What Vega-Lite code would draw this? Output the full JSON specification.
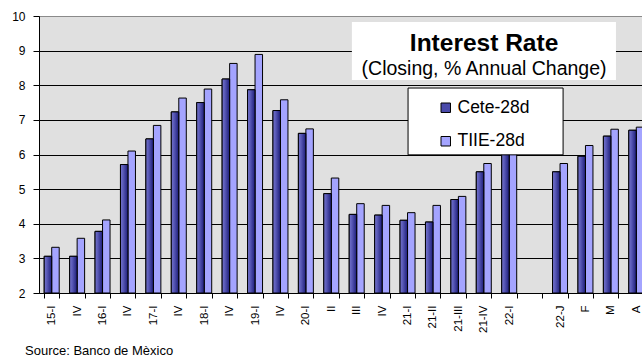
{
  "$schema": "https://vega.github.io/schema/vega-lite/v6.json",
  "autosize": {"type": "none"},
  "width": 603,
  "height": 277,
  "padding": {"left": 39, "top": 16, "right": 0, "bottom": 64},
  "background": "white",
  "config": {
    "font": "Liberation Sans",
    "view": {"fill": "#e0e0e0", "stroke": "#8a8a8a", "strokeWidth": 1},
    "legend": {
      "orient": "none",
      "legendX": 398,
      "legendY": 83,
      "padding": 0,
      "symbolType": "square",
      "symbolSize": 90,
      "symbolStrokeColor": "black",
      "symbolStrokeWidth": 1,
      "symbolOpacity": 1,
      "labelFont": "Liberation Sans",
      "labelFontSize": 17.5,
      "labelColor": "black",
      "labelOffset": 3,
      "rowPadding": 14.5
    },
    "title": {"font": "Liberation Sans"}
  },
  "title": {
    "text": "Source: Banco de Mèxico",
    "orient": "bottom",
    "anchor": "start",
    "frame": "group",
    "dx": -14,
    "offset": 13,
    "fontSize": 13,
    "fontWeight": "normal",
    "color": "black"
  },
  "data": {
    "values": [
      {"period": "15-I", "series": "Cete-28d", "rate": 3.06},
      {"period": "15-I", "series": "TIIE-28d", "rate": 3.32},
      {"period": "IV|15", "series": "Cete-28d", "rate": 3.06},
      {"period": "IV|15", "series": "TIIE-28d", "rate": 3.58},
      {"period": "16-I", "series": "Cete-28d", "rate": 3.78},
      {"period": "16-I", "series": "TIIE-28d", "rate": 4.11},
      {"period": "IV|16", "series": "Cete-28d", "rate": 5.71},
      {"period": "IV|16", "series": "TIIE-28d", "rate": 6.10},
      {"period": "17-I", "series": "Cete-28d", "rate": 6.45},
      {"period": "17-I", "series": "TIIE-28d", "rate": 6.84},
      {"period": "IV|17", "series": "Cete-28d", "rate": 7.23},
      {"period": "IV|17", "series": "TIIE-28d", "rate": 7.63},
      {"period": "18-I", "series": "Cete-28d", "rate": 7.50},
      {"period": "18-I", "series": "TIIE-28d", "rate": 7.89},
      {"period": "IV|18", "series": "Cete-28d", "rate": 8.18},
      {"period": "IV|18", "series": "TIIE-28d", "rate": 8.63},
      {"period": "19-I", "series": "Cete-28d", "rate": 7.87},
      {"period": "19-I", "series": "TIIE-28d", "rate": 8.89},
      {"period": "IV|19", "series": "Cete-28d", "rate": 7.27},
      {"period": "IV|19", "series": "TIIE-28d", "rate": 7.58},
      {"period": "20-I", "series": "Cete-28d", "rate": 6.61},
      {"period": "20-I", "series": "TIIE-28d", "rate": 6.74},
      {"period": "II|20", "series": "Cete-28d", "rate": 4.87},
      {"period": "II|20", "series": "TIIE-28d", "rate": 5.32},
      {"period": "III|20", "series": "Cete-28d", "rate": 4.27},
      {"period": "III|20", "series": "TIIE-28d", "rate": 4.58},
      {"period": "IV|20", "series": "Cete-28d", "rate": 4.25},
      {"period": "IV|20", "series": "TIIE-28d", "rate": 4.53},
      {"period": "21-I", "series": "Cete-28d", "rate": 4.10},
      {"period": "21-I", "series": "TIIE-28d", "rate": 4.32},
      {"period": "21-II", "series": "Cete-28d", "rate": 4.05},
      {"period": "21-II", "series": "TIIE-28d", "rate": 4.53},
      {"period": "21-III", "series": "Cete-28d", "rate": 4.70},
      {"period": "21-III", "series": "TIIE-28d", "rate": 4.79},
      {"period": "21-IV", "series": "Cete-28d", "rate": 5.50},
      {"period": "21-IV", "series": "TIIE-28d", "rate": 5.74},
      {"period": "22-I", "series": "Cete-28d", "rate": 6.53},
      {"period": "22-I", "series": "TIIE-28d", "rate": 6.73},
      {"period": "22-J", "series": "Cete-28d", "rate": 5.50},
      {"period": "22-J", "series": "TIIE-28d", "rate": 5.74},
      {"period": "F", "series": "Cete-28d", "rate": 5.95},
      {"period": "F", "series": "TIIE-28d", "rate": 6.26},
      {"period": "M", "series": "Cete-28d", "rate": 6.53},
      {"period": "M", "series": "TIIE-28d", "rate": 6.73},
      {"period": "A", "series": "Cete-28d", "rate": 6.70},
      {"period": "A", "series": "TIIE-28d", "rate": 6.79}
    ]
  },
  "layer": [
    {
      "encoding": {
        "x": {
          "field": "period",
          "type": "nominal",
          "sort": null,
          "scale": {
            "domain": ["15-I", "IV|15", "16-I", "IV|16", "17-I", "IV|17", "18-I", "IV|18", "19-I", "IV|19", "20-I", "II|20", "III|20", "IV|20", "21-I", "21-II", "21-III", "21-IV", "22-I", "|gap", "22-J", "F", "M", "A"],
            "range": [0, 610],
            "paddingInner": 0.41,
            "paddingOuter": 0.205
          },
          "axis": {
            "title": null,
            "labelExpr": "isString(datum.value) ? split(datum.value, '|')[0] : ''",
            "labelAngle": -90,
            "labelFontSize": 11.5,
            "labelColor": "black",
            "labelPadding": 7,
            "tickBand": "extent",
            "tickSize": 5,
            "tickColor": "black",
            "domainColor": "black",
            "grid": false
          }
        },
        "xOffset": {
          "field": "series",
          "type": "nominal",
          "scale": {"domain": ["Cete-28d", "TIIE-28d"], "paddingInner": 0, "paddingOuter": 0}
        },
        "y": {
          "field": "rate",
          "type": "quantitative",
          "scale": {"domain": [2, 10], "zero": false, "nice": false},
          "axis": {
            "title": null,
            "values": [2, 3, 4, 5, 6, 7, 8, 9, 10],
            "grid": true,
            "gridColor": {"condition": {"test": "datum.value === 10", "value": "#8a8a8a"}, "value": "black"},
            "gridWidth": 1,
            "gridOpacity": 1,
            "tickSize": 6,
            "tickColor": "black",
            "domainColor": "black",
            "labelFontSize": 12,
            "labelColor": "black",
            "labelPadding": 8,
            "labelOverlap": false
          }
        },
        "y2": {"datum": 2}
      },
      "layer": [
        {
          "mark": {"type": "bar", "stroke": "black", "strokeWidth": 1},
          "encoding": {
            "color": {
              "field": "series",
              "type": "nominal",
              "scale": {"domain": ["Cete-28d", "TIIE-28d"], "range": ["#4a4aaa", "#a4a4ff"]},
              "legend": {"title": null}
            }
          }
        },
        {
          "transform": [{"filter": "datum.series === 'Cete-28d'"}],
          "mark": {
            "type": "bar",
            "stroke": "black",
            "strokeWidth": 1,
            "fill": {
              "gradient": "linear",
              "x1": 0, "y1": 0, "x2": 1, "y2": 0,
              "stops": [
                {"offset": 0, "color": "#7474cc"},
                {"offset": 0.35, "color": "#5a5ab8"},
                {"offset": 1, "color": "#1c1c78"}
              ]
            }
          }
        }
      ]
    },
    {
      "encoding": {
        "y": {
          "type": "quantitative",
          "axis": {
            "title": null,
            "values": [2, 3, 4, 5, 6, 7, 8, 9, 10],
            "grid": true,
            "gridColor": {"condition": {"test": "datum.value === 10", "value": "#8a8a8a"}, "value": "black"},
            "gridWidth": 1,
            "gridOpacity": 1,
            "tickSize": 6,
            "tickColor": "black",
            "domainColor": "black",
            "labelFontSize": 12,
            "labelColor": "black",
            "labelPadding": 8,
            "labelOverlap": false
          }
        }
      },
      "layer": [
        {
          "data": {"values": [{"box": "title"}]},
          "mark": {"type": "rect", "fill": "white"},
          "encoding": {
            "x": {"datum": 12.31, "type": "quantitative", "scale": {"domain": [0, 24], "range": [0, 610], "zero": false, "nice": false}, "axis": null},
            "x2": {"datum": 22.7},
            "y": {"datum": 9.83, "type": "quantitative"},
            "y2": {"datum": 8.15}
          }
        },
        {
          "data": {"values": [{"box": "legend"}]},
          "mark": {"type": "rect", "fill": "white", "stroke": "black", "strokeWidth": 1},
          "encoding": {
            "x": {"datum": 14.52, "type": "quantitative"},
            "x2": {"datum": 20.62},
            "y": {"datum": 7.92, "type": "quantitative"},
            "y2": {"datum": 5.99}
          }
        },
        {
          "data": {"values": [{"t": "Interest Rate"}]},
          "mark": {"type": "text", "fontSize": 24.5, "fontWeight": "bold", "color": "black", "align": "center", "baseline": "alphabetic"},
          "encoding": {
            "x": {"datum": 17.51, "type": "quantitative"},
            "y": {"datum": 8.99, "type": "quantitative"},
            "text": {"field": "t"}
          }
        },
        {
          "data": {"values": [{"t": "(Closing, % Annual Change)"}]},
          "mark": {"type": "text", "fontSize": 19.5, "color": "black", "align": "center", "baseline": "alphabetic"},
          "encoding": {
            "x": {"datum": 17.51, "type": "quantitative"},
            "y": {"datum": 8.30, "type": "quantitative"},
            "text": {"field": "t"}
          }
        }
      ]
    }
  ],
  "resolve": {"scale": {"x": "independent"}}
}
